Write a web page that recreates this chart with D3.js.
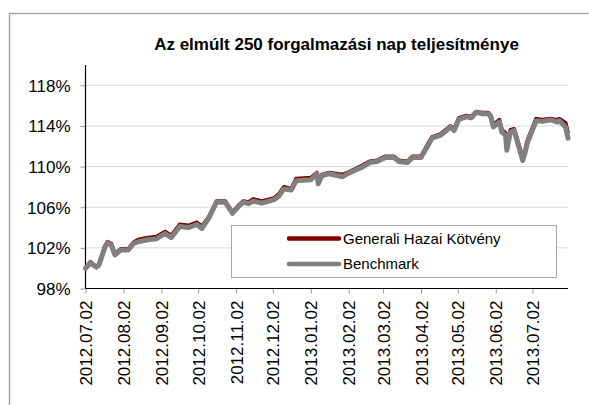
<!DOCTYPE html>
<html>
<head>
<meta charset="utf-8">
<script src="https://cdn.jsdelivr.net/npm/d3@7"></script>
<style>
  body { margin: 0; background: #fff; }
  svg text { font-family: "Liberation Sans", Arial, sans-serif; fill: #000; }
</style>
</head>
<body>
<div id="chart"></div>
<script>
var title = "Az elmúlt 250 forgalmazási nap teljesítménye";
var seriesNames = ["Generali Hazai Kötvény", "Benchmark"];

var dates = [
  "2012-07-02","2012-07-06","2012-07-11","2012-07-13","2012-07-18","2012-07-20","2012-07-23","2012-07-26","2012-07-31",
  "2012-08-06","2012-08-10","2012-08-14","2012-08-22","2012-08-29",
  "2012-09-05","2012-09-10","2012-09-17","2012-09-24",
  "2012-10-01","2012-10-05","2012-10-11","2012-10-17","2012-10-24","2012-10-30",
  "2012-11-05","2012-11-08","2012-11-12","2012-11-16","2012-11-23",
  "2012-12-03","2012-12-07","2012-12-11","2012-12-17","2012-12-21",
  "2013-01-02","2013-01-07","2013-01-08","2013-01-11","2013-01-17","2013-01-28",
  "2013-02-01","2013-02-08","2013-02-13","2013-02-19","2013-02-25",
  "2013-03-04","2013-03-11","2013-03-15","2013-03-22","2013-03-26",
  "2013-04-02","2013-04-08","2013-04-11","2013-04-18","2013-04-22","2013-04-26","2013-04-29",
  "2013-05-03","2013-05-09","2013-05-13","2013-05-17","2013-05-22","2013-05-27","2013-05-29","2013-05-31",
  "2013-06-05","2013-06-07","2013-06-10","2013-06-11","2013-06-14","2013-06-17","2013-06-19","2013-06-24","2013-06-26","2013-06-28",
  "2013-07-05","2013-07-10","2013-07-17","2013-07-22","2013-07-24","2013-07-29","2013-07-31"
];

// values in %
var fund = [
  100.0,100.6,100.1,100.4,102.2,102.6,102.4,101.4,101.9,
  101.9,102.5,102.8,103.0,103.1,
  103.6,103.2,104.3,104.2,
  104.5,104.1,105.1,106.6,106.6,105.5,
  106.3,106.6,106.5,106.8,106.6,
  106.9,107.3,108.0,107.8,108.8,
  108.9,109.4,108.5,109.2,109.4,109.2,
  109.4,109.8,110.1,110.5,110.6,
  111.0,111.0,110.6,110.5,111.0,
  111.0,112.3,112.9,113.2,113.6,114.0,113.7,
  114.8,115.0,114.9,115.4,115.3,115.3,115.0,114.1,
  114.6,113.6,113.3,111.8,113.6,113.7,112.9,110.8,111.6,112.6,
  114.7,114.6,114.7,114.6,114.7,114.3,113.3
];

var benchmark = [
  100.0,100.5,100.1,100.3,102.1,102.5,102.3,101.3,101.8,
  101.8,102.4,102.6,102.8,102.9,
  103.4,103.0,104.1,104.0,
  104.3,103.9,105.0,106.5,106.5,105.4,
  106.2,106.5,106.35,106.6,106.4,
  106.75,107.1,107.8,107.7,108.6,
  108.7,109.3,108.3,109.1,109.3,109.0,
  109.3,109.7,109.95,110.4,110.5,
  110.9,110.9,110.5,110.4,110.9,
  110.9,112.15,112.8,113.1,113.45,113.9,113.55,
  114.65,114.9,114.8,115.35,115.2,115.2,114.9,113.9,
  114.4,113.4,113.1,111.6,113.4,113.55,112.7,110.6,111.4,112.4,
  114.5,114.45,114.6,114.4,114.5,113.9,112.8
];

var xTickDates = ["2012-07-02","2012-08-02","2012-09-02","2012-10-02","2012-11-02","2012-12-02",
                  "2013-01-02","2013-02-02","2013-03-02","2013-04-02","2013-05-02","2013-06-02","2013-07-02"];
var yTicks = [98, 102, 106, 110, 114, 118];

var width = 589, height = 405;
var plot = {left: 85.5, right: 568, top: 65, bottom: 288.5};

var parse = d3.timeParse("%Y-%m-%d");
var fmt = d3.timeFormat("%Y.%m.%d");

var svg = d3.select("#chart").append("svg")
  .attr("width", width)
  .attr("height", height);

// outer chart frame (only top and left edges show)
svg.append("rect")
  .attr("x", 9.5).attr("y", 13.5)
  .attr("width", 700).attr("height", 500)
  .attr("fill", "none")
  .attr("stroke", "#a6a6a6")
  .attr("stroke-width", 1.5);

svg.append("text")
  .attr("x", 336.5)
  .attr("y", 50)
  .attr("text-anchor", "middle")
  .style("font-size", "17px")
  .style("font-weight", "bold")
  .text(title);

var x = d3.scaleTime()
  .domain([parse("2012-07-02"), parse("2013-07-31")])
  .range([plot.left, plot.right]);

var y = d3.scaleLinear()
  .domain([98, 120])
  .range([plot.bottom, plot.top]);

// gridlines
svg.append("g")
  .selectAll("line")
  .data(yTicks.slice(1))
  .enter().append("line")
  .attr("x1", plot.left).attr("x2", plot.right)
  .attr("y1", function(d) { return y(d); })
  .attr("y2", function(d) { return y(d); })
  .attr("stroke", "#d9d9d9")
  .attr("stroke-width", 1);

var yAxis = d3.axisLeft(y)
  .tickValues(yTicks)
  .tickSize(5)
  .tickPadding(10)
  .tickFormat(function(d) { return d + "%"; });

var gy = svg.append("g")
  .attr("transform", "translate(" + plot.left + ",0)")
  .call(yAxis);
gy.select(".domain").remove();
gy.selectAll(".tick line").attr("stroke", "#999");
gy.selectAll(".tick text").style("font-size", "17px").attr("dy", "0.35em");

var xAxis = d3.axisBottom(x)
  .tickValues(xTickDates.map(parse))
  .tickSize(5)
  .tickFormat(fmt);

var gx = svg.append("g")
  .attr("transform", "translate(0," + plot.bottom + ")")
  .call(xAxis);
gx.select(".domain").remove();
gx.selectAll(".tick line").attr("stroke", "#999");
gx.selectAll(".tick text")
  .style("font-size", "17px")
  .attr("text-anchor", "end")
  .attr("transform", "rotate(-90)")
  .attr("x", -12)
  .attr("y", 0)
  .attr("dy", "0.36em");

// axis lines
svg.append("line")
  .attr("x1", plot.left).attr("x2", plot.left)
  .attr("y1", plot.top).attr("y2", plot.bottom)
  .attr("stroke", "#000").attr("stroke-width", 1.2);
svg.append("line")
  .attr("x1", plot.left).attr("x2", plot.right)
  .attr("y1", plot.bottom).attr("y2", plot.bottom)
  .attr("stroke", "#000").attr("stroke-width", 1.2);

var pts = dates.map(function(d, i) {
  return {date: parse(d), fund: fund[i], bench: benchmark[i]};
});

var fundLine = d3.line()
  .x(function(d) { return x(d.date); })
  .y(function(d) { return y(d.fund); });

var benchLine = d3.line()
  .x(function(d) { return x(d.date); })
  .y(function(d) { return y(d.bench); });

svg.append("path")
  .datum(pts)
  .attr("d", fundLine)
  .attr("fill", "none")
  .attr("stroke", "#800000")
  .attr("stroke-width", 4)
  .attr("stroke-linejoin", "round");

svg.append("path")
  .datum(pts)
  .attr("d", benchLine)
  .attr("fill", "none")
  .attr("stroke", "#808080")
  .attr("stroke-width", 5)
  .attr("stroke-linejoin", "round")
  .attr("stroke-linecap", "round");

// legend
var legend = svg.append("g");
legend.append("rect")
  .attr("x", 231.5).attr("y", 225.5)
  .attr("width", 325).attr("height", 52)
  .attr("fill", "#fff")
  .attr("stroke", "#a6a6a6")
  .attr("stroke-width", 1);

var legendColors = ["#800000", "#808080"];
var legendY = [238.5, 264];
seriesNames.forEach(function(name, i) {
  legend.append("line")
    .attr("x1", 289).attr("x2", 339)
    .attr("y1", legendY[i]).attr("y2", legendY[i])
    .attr("stroke", legendColors[i])
    .attr("stroke-width", 4.5)
    .attr("stroke-linecap", "round");
  legend.append("text")
    .attr("x", 343)
    .attr("y", legendY[i])
    .attr("dy", "0.35em")
    .style("font-size", "15px")
    .text(name);
});
</script>
</body>
</html>
